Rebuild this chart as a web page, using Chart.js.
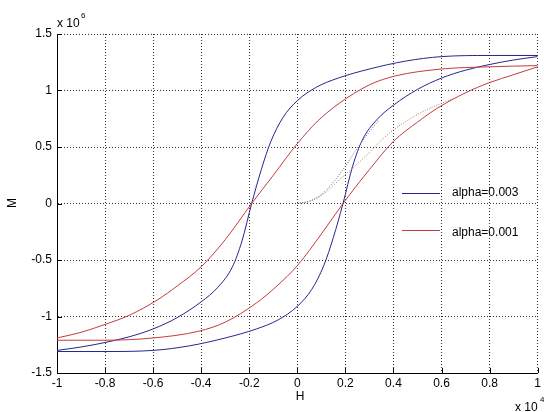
<!DOCTYPE html>
<html>
<head>
<meta charset="utf-8">
<script src="https://cdn.jsdelivr.net/npm/chart.js@4.4.1/dist/chart.umd.min.js"></script>
<style>
  html, body { margin: 0; padding: 0; background: #fff; }
  #wrap { position: relative; width: 544px; height: 412px; }
</style>
</head>
<body>
<div id="wrap"><canvas id="loopChart" width="544" height="412"></canvas></div>
<script>
// axis ticks (H in units of 1e4, M in units of 1e6)
const xTicks = [-1, -0.8, -0.6, -0.4, -0.2, 0, 0.2, 0.4, 0.6, 0.8, 1];
const xTickLabels = ['-1', '-0.8', '-0.6', '-0.4', '-0.2', '0', '0.2', '0.4', '0.6', '0.8', '1'];
const yTicks = [-1.5, -1, -0.5, 0, 0.5, 1, 1.5];
const yTickLabels = ['-1.5', '-1', '-0.5', '0', '0.5', '1', '1.5'];
const seriesNames = ['alpha=0.003', 'alpha=0.001'];

// alpha=0.003 loop (both branches listed with H increasing)
const blueDownH = [-1, -0.9, -0.8, -0.7, -0.6, -0.5, -0.4, -0.33, -0.27, -0.23, -0.19, -0.15, -0.11, -0.06, 0, 0.08, 0.17, 0.3, 0.45, 0.6, 0.8, 1.0];
const blueDownM = [-1.30, -1.27, -1.23, -1.18, -1.11, -1.01, -0.87, -0.74, -0.56, -0.33, 0.0, 0.30, 0.55, 0.76, 0.91, 1.03, 1.11, 1.19, 1.26, 1.30, 1.31, 1.31];
const blueUpH = [-1, -0.8, -0.6, -0.45, -0.3, -0.17, -0.08, 0, 0.06, 0.11, 0.15, 0.19, 0.23, 0.27, 0.33, 0.4, 0.5, 0.6, 0.7, 0.8, 0.9, 1.0];
const blueUpM = [-1.31, -1.31, -1.30, -1.26, -1.19, -1.11, -1.03, -0.91, -0.76, -0.55, -0.30, 0.0, 0.33, 0.56, 0.74, 0.87, 1.01, 1.11, 1.18, 1.23, 1.27, 1.30];
const blueInitH = [0, 0.05, 0.1, 0.15, 0.2, 0.24, 0.28, 0.34];
const blueInitM = [0, 0.02, 0.08, 0.19, 0.33, 0.46, 0.58, 0.74];

// alpha=0.001 loop
const redDownH = [-1, -0.9, -0.8, -0.7, -0.58, -0.5, -0.4, -0.3, -0.19, -0.1, 0, 0.085, 0.17, 0.3, 0.41, 0.6, 0.8, 1.0];
const redDownM = [-1.19, -1.14, -1.07, -0.99, -0.85, -0.73, -0.56, -0.32, 0.0, 0.25, 0.53, 0.73, 0.88, 1.05, 1.13, 1.19, 1.21, 1.22];
const redUpH = [-1, -0.8, -0.6, -0.41, -0.3, -0.17, -0.085, 0, 0.1, 0.19, 0.3, 0.4, 0.5, 0.58, 0.7, 0.8, 0.9, 1.0];
const redUpM = [-1.21, -1.21, -1.19, -1.13, -1.05, -0.88, -0.73, -0.55, -0.27, 0.0, 0.30, 0.55, 0.72, 0.84, 0.98, 1.07, 1.14, 1.21];
const redInitH = [0, 0.05, 0.1, 0.17, 0.28, 0.37, 0.51, 0.65];
const redInitM = [0, 0.02, 0.07, 0.20, 0.41, 0.60, 0.80, 0.93];

const blueColor = '#26268c';
const redColor = '#c43c3c';

function toPoints(hs, ms) {
  return hs.map((h, i) => ({ x: h, y: ms[i] }));
}

function branch(hs, ms, color, dashed) {
  return {
    data: toPoints(hs, ms),
    showLine: true,
    borderColor: color,
    borderWidth: 1,
    borderDash: dashed ? [1, 1.5] : [],
    pointRadius: 0,
    cubicInterpolationMode: 'monotone',
    fill: false
  };
}

// axis decorations: inward ticks, exponent labels, axis titles, legend
const matlabDecor = {
  id: 'matlabDecor',
  afterDraw(chart) {
    const ctx = chart.ctx;
    const area = chart.chartArea;
    const xs = chart.scales.x;
    const ys = chart.scales.y;
    ctx.save();
    ctx.strokeStyle = '#000';
    ctx.lineWidth = 1;
    ctx.beginPath();
    xTicks.forEach(v => {
      const px = Math.round(xs.getPixelForValue(v)) + 0.5;
      ctx.moveTo(px, area.bottom);
      ctx.lineTo(px, area.bottom - 5);
    });
    yTicks.forEach(v => {
      const py = Math.round(ys.getPixelForValue(v)) + 0.5;
      ctx.moveTo(area.left, py);
      ctx.lineTo(area.left + 5, py);
    });
    ctx.stroke();

    ctx.fillStyle = '#000';
    ctx.textBaseline = 'alphabetic';
    ctx.textAlign = 'left';
    ctx.font = '12px "Liberation Sans", Arial, sans-serif';
    ctx.fillText('x 10', 57, 27);
    ctx.fillText('x 10', 515, 411);
    ctx.font = '8px "Liberation Sans", Arial, sans-serif';
    ctx.fillText('6', 81, 18);
    ctx.fillText('4', 540, 402);

    ctx.font = '12px "Liberation Sans", Arial, sans-serif';
    ctx.textAlign = 'center';
    ctx.textBaseline = 'middle';
    ctx.fillText('H', 300, 397);
    ctx.save();
    ctx.translate(13, 203);
    ctx.rotate(-Math.PI / 2);
    ctx.fillText('M', 0, 0);
    ctx.restore();

    // legend
    const legendRows = [
      { name: seriesNames[0], color: blueColor, lineY: 193, textY: 193 },
      { name: seriesNames[1], color: redColor, lineY: 230, textY: 233 }
    ];
    ctx.textAlign = 'left';
    legendRows.forEach(r => {
      ctx.strokeStyle = r.color;
      ctx.beginPath();
      ctx.moveTo(402, r.lineY + 0.5);
      ctx.lineTo(440, r.lineY + 0.5);
      ctx.stroke();
      ctx.fillStyle = '#000';
      ctx.fillText(r.name, 452, r.textY);
    });
    ctx.restore();
  }
};

const ctx = document.getElementById('loopChart').getContext('2d');
new Chart(ctx, {
  type: 'scatter',
  data: {
    datasets: [
      branch(blueInitH, blueInitM, '#6a6a9c', true),
      branch(redInitH, redInitM, '#b07a7a', true),
      branch(redDownH, redDownM, redColor, false),
      branch(redUpH, redUpM, redColor, false),
      branch(blueDownH, blueDownM, blueColor, false),
      branch(blueUpH, blueUpM, blueColor, false)
    ]
  },
  options: {
    responsive: false,
    animation: false,
    devicePixelRatio: 1,
    layout: { padding: { left: 0, top: 34, right: 2, bottom: 0 } },
    plugins: {
      legend: { display: false },
      tooltip: { enabled: false }
    },
    scales: {
      x: {
        type: 'linear',
        min: -1,
        max: 1,
        afterBuildTicks: scale => { scale.ticks = xTicks.map(v => ({ value: v })); },
        afterFit: scale => { scale.height = 39; },
        ticks: {
          callback: (v, i) => xTickLabels[i],
          color: '#000',
          font: { family: '"Liberation Sans", Arial, sans-serif', size: 12 },
          padding: 3,
          maxRotation: 0,
          autoSkip: false
        },
        grid: { color: '#333', lineWidth: 1, drawTicks: false },
        border: { display: true, color: '#000', width: 1, dash: [1, 2] }
      },
      y: {
        type: 'linear',
        min: -1.5,
        max: 1.5,
        afterBuildTicks: scale => { scale.ticks = yTicks.map(v => ({ value: v })); },
        afterFit: scale => { scale.width = 57; },
        ticks: {
          callback: (v, i) => yTickLabels[i],
          color: '#000',
          font: { family: '"Liberation Sans", Arial, sans-serif', size: 12 },
          padding: 5,
          autoSkip: false
        },
        grid: { color: '#333', lineWidth: 1, drawTicks: false },
        border: { display: true, color: '#000', width: 1, dash: [1, 2] }
      }
    }
  },
  plugins: [matlabDecor]
});
</script>
</body>
</html>
